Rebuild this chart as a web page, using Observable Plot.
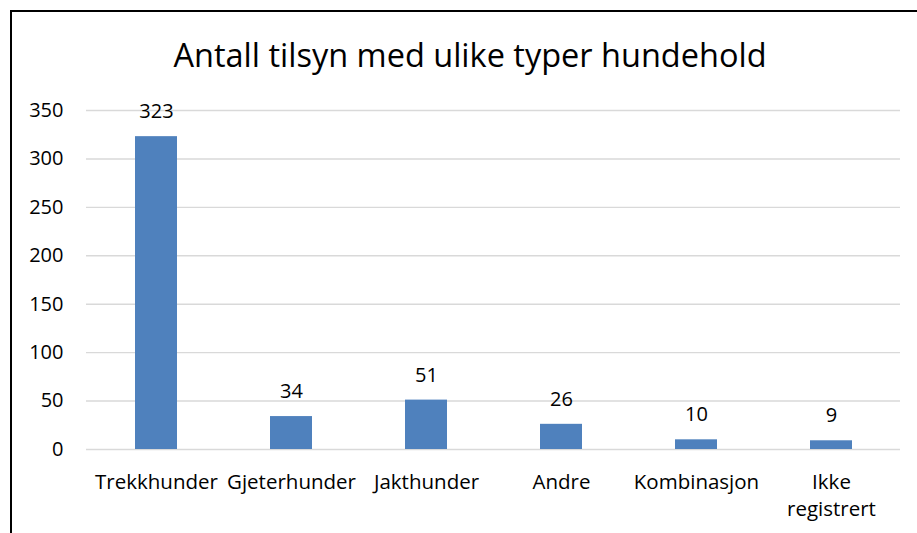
<!DOCTYPE html>
<html>
<head>
<meta charset="utf-8">
<script src="https://cdn.jsdelivr.net/npm/d3@7"></script>
<script src="https://cdn.jsdelivr.net/npm/@observablehq/plot@0.6"></script>
<style>
  html, body { margin: 0; padding: 0; background: #fff; overflow: hidden; }
  body { width: 917px; height: 533px; position: relative; font-family: "Open Sans", sans-serif; }
  #frame { position: absolute; left: 10px; top: 10px; width: 1000px; height: 1000px;
           border-left: 2px solid #000; border-top: 2px solid #000; pointer-events: none; box-sizing: border-box; }
  #title { position: absolute; left: 0; top: 0; width: 940px; height: 90px; text-align: center;
           font-size: 32.5px; line-height: 1; color: #000; }
  #title span { position: absolute; left: 0; right: 0; top: 39px; }
  #chart { position: absolute; left: 0; top: 90px; }
</style>
</head>
<body>
<div id="title"><span>Antall tilsyn med ulike typer hundehold</span></div>
<div id="chart"></div>
<div id="frame"></div>
<script>
const categories = ["Trekkhunder", "Gjeterhunder", "Jakthunder", "Andre", "Kombinasjon", "Ikke registrert"];
const categoryLabels = ["Trekkhunder", "Gjeterhunder", "Jakthunder", "Andre", "Kombinasjon", "Ikke\nregistrert"];
const values = [323, 34, 51, 26, 10, 9];
const yTicks = [0, 50, 100, 150, 200, 250, 300, 350];

const data = categories.map((c, i) => ({category: c, value: values[i]}));
const labelOf = new Map(categories.map((c, i) => [c, categoryLabels[i]]));

const chart = Plot.plot({
  width: 917,
  height: 443,
  marginLeft: 86,
  marginRight: 17,
  marginTop: 20,
  marginBottom: 84,
  style: {fontFamily: "'Open Sans', sans-serif", fontSize: "20px", color: "#000", background: "transparent"},
  x: {domain: categories, paddingInner: 0.69, paddingOuter: 0.345, label: null},
  y: {domain: [0, 350], label: null},
  marks: [
    Plot.gridY(yTicks, {stroke: "#d9d9d9", strokeOpacity: 1, strokeWidth: 1.4}),
    Plot.barY(data, {x: "category", y: "value", fill: "#4f81bd"}),
    Plot.text(data, {x: "category", y: "value", text: d => String(d.value), dy: -25, lineAnchor: "middle", fontSize: 20, fill: "#000"}),
    Plot.axisY(yTicks, {tickSize: 0, tickPadding: 23, fontSize: 20, fill: "#000"}),
    Plot.axisX({tickSize: 0, tickPadding: 20, fontSize: 20.5, fill: "#000", lineHeight: 1.32, tickFormat: c => labelOf.get(c)})
  ]
});
document.getElementById("chart").append(chart);
</script>
</body>
</html>
